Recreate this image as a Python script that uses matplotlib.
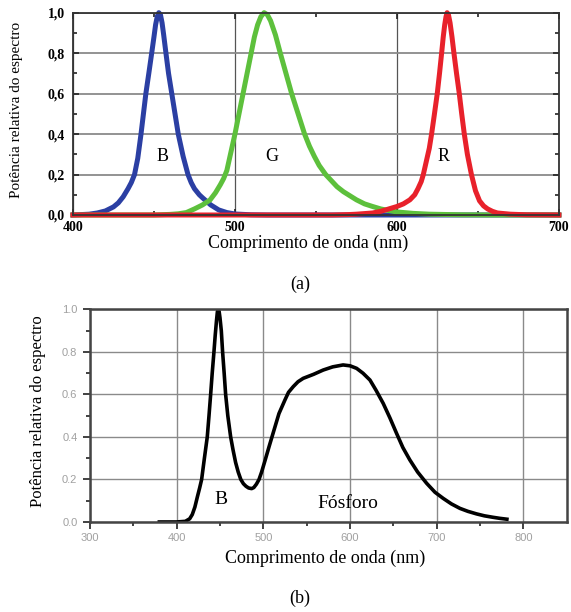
import numpy as np
import matplotlib
matplotlib.use('Agg')
import matplotlib.pyplot as plt

plt.rcParams['font.family'] = ['Liberation Serif', 'DejaVu Serif']

# (a) RGB LED spectra
blue_nm = [400, 405, 410, 415, 420, 425, 428, 431, 434, 436, 438, 440, 442, 443.5, 445, 447, 448.6,
           450, 451, 452, 453, 454, 455, 456, 457.4, 459, 461, 463, 465, 468, 471, 473, 475, 478,
           480, 485, 490, 495, 500, 510, 520, 700]
blue_p = [0.0, 0.002, 0.004, 0.01, 0.02, 0.04, 0.06, 0.09, 0.13, 0.16, 0.2, 0.28, 0.4, 0.5, 0.6, 0.71, 0.8,
          0.88, 0.94, 0.98, 1.0, 0.99, 0.95, 0.89, 0.8, 0.7, 0.6, 0.5, 0.4, 0.29, 0.2, 0.16, 0.13, 0.1,
          0.085, 0.05, 0.025, 0.012, 0.005, 0.001, 0.0, 0.0]

green_nm = [400, 450, 460, 465, 470, 475, 480, 484.6, 488, 491, 493, 495, 497.5, 500, 502.5, 505, 507.5,
            510, 512, 514, 516, 518, 520, 522, 525, 528, 531.5, 535, 539, 543, 546, 549, 552, 556,
            559.5, 563, 567, 571, 575, 580, 585, 590, 595, 600, 610, 620, 640, 660, 700]
green_p = [0.0, 0.0, 0.003, 0.006, 0.012, 0.03, 0.05, 0.074, 0.11, 0.15, 0.18, 0.22, 0.31, 0.4, 0.5, 0.6, 0.7,
           0.8, 0.88, 0.94, 0.98, 1.0, 0.99, 0.96, 0.89, 0.8, 0.7, 0.6, 0.5, 0.4, 0.34, 0.29, 0.245, 0.2,
           0.17, 0.14, 0.115, 0.095, 0.075, 0.055, 0.042, 0.03, 0.022, 0.015, 0.008, 0.004, 0.001, 0.0, 0.0]

red_nm = [400, 560, 570, 575, 580, 585, 590, 595, 600, 604, 608, 611, 613, 615, 616.3, 618, 620, 621.4,
          623, 624.9, 626.3, 627.6, 628.6, 629.5, 630.3, 631, 631.8, 632.8, 634, 635.2, 636.8, 638.5,
          640, 641.6, 643.5, 646, 648.5, 651, 653.5, 656, 659, 662, 670, 680, 700]
red_p = [0.0, 0.0, 0.002, 0.004, 0.007, 0.01, 0.018, 0.03, 0.042, 0.055, 0.075, 0.1, 0.13, 0.165, 0.2, 0.26, 0.33, 0.4,
         0.49, 0.6, 0.7, 0.8, 0.88, 0.94, 0.98, 1.0, 0.99, 0.95, 0.88, 0.8, 0.7, 0.6,
         0.5, 0.4, 0.3, 0.2, 0.12, 0.07, 0.045, 0.03, 0.018, 0.01, 0.004, 0.001, 0.0]

# (b) white LED (blue chip + phosphor)
white_nm = [380, 400, 410, 415, 418, 421, 424, 426.5, 428.8, 432, 435.3, 437.3, 439.2, 441, 443, 444.5,
            446, 447, 448, 449, 450, 451.5, 453, 454.8, 456.5, 459, 462.3, 465, 468, 471, 474, 477,
            480, 483, 486.5, 489, 492, 495, 498, 502, 507, 511.4, 518, 524.9, 529, 534.5, 540, 546,
            558, 569, 580, 592, 600, 607.6, 615, 623, 630, 638.3, 646, 653.7, 661, 669, 678, 688.4,
            698, 707.5, 717, 726.8, 736, 746, 755, 765, 773, 781]
white_p = [0.0, 0.0, 0.003, 0.015, 0.035, 0.07, 0.12, 0.16, 0.2, 0.3, 0.4, 0.5, 0.6, 0.7, 0.8, 0.88,
           0.95, 0.99, 1.0, 0.99, 0.96, 0.9, 0.8, 0.7, 0.6, 0.5, 0.4, 0.34, 0.28, 0.235, 0.2, 0.18,
           0.168, 0.16, 0.157, 0.162, 0.178, 0.2, 0.235, 0.29, 0.36, 0.42, 0.51, 0.574, 0.61, 0.637, 0.66, 0.676,
           0.695, 0.715, 0.73, 0.739, 0.735, 0.723, 0.7, 0.668, 0.62, 0.558, 0.49, 0.417, 0.35, 0.292, 0.235, 0.182,
           0.14, 0.111, 0.085, 0.064, 0.05, 0.038, 0.029, 0.022, 0.017, 0.013]

yticks_a = [0.0, 0.2, 0.4, 0.6, 0.8, 1.0]
ylabels_a = ['0,0', '0,2', '0,4', '0,6', '0,8', '1,0']
xticks_a = [400, 500, 600, 700]
xticks_b = [300, 400, 500, 600, 700, 800]
yticks_b = [0.0, 0.2, 0.4, 0.6, 0.8, 1.0]

fig = plt.figure(figsize=(5.71, 6.12), dpi=100)

# ---------------- panel (a)
ax1 = fig.add_axes([0.1278, 0.6487, 0.851, 0.3306])
ax1.plot(blue_nm, blue_p, color='#2b3fa3', lw=3.6, solid_joinstyle='round', clip_on=False)
ax1.plot(green_nm, green_p, color='#5dc03c', lw=3.6, solid_joinstyle='round', clip_on=False)
ax1.plot(red_nm, red_p, color='#e8212b', lw=3.6, solid_joinstyle='round', clip_on=False)
ax1.set_xlim(400, 700)
ax1.set_ylim(0, 1)
ax1.set_xticks(xticks_a)
ax1.set_xticklabels([str(t) for t in xticks_a], fontweight='bold', fontsize=10)
ax1.set_yticks(yticks_a)
ax1.set_yticklabels(ylabels_a, fontweight='bold', fontsize=10)
ax1.set_xticks([450, 550, 650], minor=True)
ax1.set_yticks([0.1, 0.3, 0.5, 0.7, 0.9], minor=True)
ax1.tick_params(which='both', direction='in', top=True, right=True, color='#222222')
ax1.tick_params(which='major', length=4, width=1.2)
ax1.tick_params(which='minor', length=3, width=1.2)
ax1.tick_params(axis='y', pad=6)
ax1.tick_params(axis='x', pad=4)
ax1.grid(True, axis='y', color='#8a8a8a', lw=1.3)
ax1.grid(True, axis='x', color='#555555', lw=0.9)
ax1.set_axisbelow(True)
for s in ax1.spines.values():
    s.set_color('#333333')
    s.set_linewidth(1.3)
ax1.set_ylabel('Potência relativa do espectro', fontsize=11)
ax1.yaxis.set_label_coords(-0.103, 0.52)
ax1.set_xlabel('Comprimento de onda (nm)', fontsize=13)
ax1.xaxis.set_label_coords(0.484, -0.095)
ax1.text(455, 0.29, 'B', fontsize=13, ha='center', va='center')
ax1.text(522.6, 0.29, 'G', fontsize=13, ha='center', va='center')
ax1.text(629, 0.29, 'R', fontsize=13, ha='center', va='center')
fig.text(0.525, 1 - 284 / 612, '(a)', fontsize=13, ha='center', va='center')

# ---------------- panel (b)
ax2 = fig.add_axes([0.1576, 0.1471, 0.8349, 0.3472])
ax2.plot(white_nm, white_p, color='black', lw=2.6, solid_joinstyle='round')
ax2.set_xlim(300, 850)
ax2.set_ylim(0, 1)
ax2.set_xticks(xticks_b)
ax2.set_xticklabels([str(t) for t in xticks_b], fontsize=8, color='#a0a0a0', family='Liberation Sans')
ax2.set_yticks(yticks_b)
ax2.set_yticklabels(['%.1f' % t for t in yticks_b], fontsize=8, color='#a0a0a0', family='Liberation Sans')
ax2.set_xticks([350, 450, 550, 650, 750], minor=True)
ax2.set_yticks([0.1, 0.3, 0.5, 0.7, 0.9], minor=True)
ax2.tick_params(which='both', direction='out', color='#333333')
ax2.tick_params(which='major', length=5, width=1.3)
ax2.tick_params(which='minor', length=3, width=1.3)
ax2.tick_params(axis='y', pad=4)
ax2.tick_params(axis='x', pad=3)
ax2.grid(True, color='#8a8a8a', lw=1.0)
ax2.set_axisbelow(True)
for s in ax2.spines.values():
    s.set_color('#444444')
    s.set_linewidth(1.8)
ax2.set_ylabel('Potência relativa do espectro', fontsize=12)
ax2.yaxis.set_label_coords(-0.092, 0.52)
ax2.set_xlabel('Comprimento de onda (nm)', fontsize=13)
ax2.xaxis.set_label_coords(0.493, -0.13)
ax2.text(450.7, 0.104, 'B', fontsize=14, ha='center', va='center')
ax2.text(598, 0.088, 'Fósforo', fontsize=14, ha='center', va='center')
fig.text(0.525, 1 - 598 / 612, '(b)', fontsize=13, ha='center', va='center')

fig.savefig('out.png', dpi=100)
